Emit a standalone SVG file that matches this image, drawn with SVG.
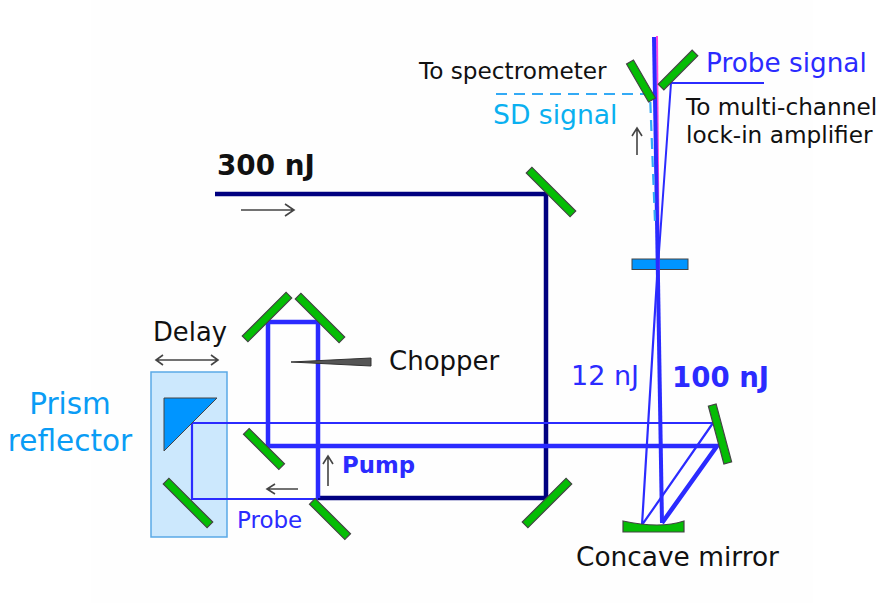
<svg xmlns="http://www.w3.org/2000/svg" width="880" height="603" viewBox="0 0 880 603">
<style>
text{font-family:"DejaVu Sans","Liberation Sans",sans-serif}
.m{fill:#05bd05;stroke:#444;stroke-width:1.2}
.bk{fill:#111}
.b{fill:#2b2bff}
.thin{fill:none;stroke:#2b2bff;stroke-width:2.2}
.thick{fill:none;stroke:#2b2bff;stroke-width:4.5}
.navy{fill:none;stroke:#000080;stroke-width:4.5}
.ar{fill:none;stroke:#444;stroke-width:1.6}
</style>
<rect width="880" height="603" fill="#fff"/>
<rect x="91" y="0" width="722" height="603" fill="#fefefe"/>
<g id="prism-stage">
<rect x="151" y="372" width="76" height="165" fill="#cce8fd" stroke="#5aa9e6" stroke-width="1.5"/>
</g>
<g id="plate"><rect x="632" y="259" width="56" height="10.500" fill="#0095ff" stroke="#444" stroke-width="1"/></g>
<g id="connectors">
<path class="navy" d="M215 194H546V498H318"/>
<path class="thick" d="M318 498V322H268V446H717L662 523"/>
<path class="thin" d="M192 423H713L642 525L658 262"/>
<path class="thin" d="M192 423V499H318"/>
<path d="M657 36L659 300" fill="none" stroke="#ff44dd" stroke-width="2"/>
<path d="M662 523L654 37" fill="none" stroke="#2b2bff" stroke-width="4"/>
<path d="M657 280L671 83H764" fill="none" stroke="#2b2bff" stroke-width="2"/>
<path d="M496 94H650L655 222" fill="none" stroke="#33aaf5" stroke-width="2.2" stroke-dasharray="11 7"/>
<path class="ar" d="M241 210H294M285 204L294 210L285 216"/>
<path class="ar" d="M637 155V128M632 136L637 128L642 136"/>
<path class="ar" d="M156 360H218M163 355L156 360L163 365M211 355L218 360L211 365"/>
<path class="ar" d="M328 486V456M323 464L328 456L333 464"/>
<path class="ar" d="M298 489H267M275 484L267 489L275 494"/>
</g>
<g id="prism"><path d="M164 398H217L164 451Z" fill="#0095ff" stroke="#444" stroke-width="1"/></g>
<g id="mirror-spectrometer"><rect class="m" x="-22" y="-4" width="44" height="8" transform="translate(641 81) rotate(60)"/></g>
<g id="mirror-probe"><rect class="m" x="-24" y="-4" width="48" height="8" transform="translate(678 70) rotate(-45)"/></g>
<g id="mirror-300"><rect class="m" x="-31" y="-4" width="62" height="8" transform="translate(551 192) rotate(45)"/></g>
<g id="mirror-br"><rect class="m" x="-31" y="-4" width="62" height="8" transform="translate(547 503) rotate(-45)"/></g>
<g id="mirror-pump"><rect class="m" x="-25" y="-4" width="50" height="8" transform="translate(330 519) rotate(45)"/></g>
<g id="mirror-delay"><rect class="m" x="-31" y="-4" width="62" height="8" transform="translate(188 503) rotate(45)"/></g>
<g id="mirror-mid"><rect class="m" x="-25" y="-4" width="50" height="8" transform="translate(264 449) rotate(45)"/></g>
<g id="mirror-a"><rect class="m" x="-31" y="-4" width="62" height="8" transform="translate(267 317) rotate(-45)"/></g>
<g id="mirror-b"><rect class="m" x="-31" y="-4" width="62" height="8" transform="translate(320 318) rotate(45)"/></g>
<g id="mirror-right"><rect class="m" x="-30" y="-4" width="60" height="8" transform="translate(720 434) rotate(75)"/></g>
<g id="concave"><path d="M623 521Q660 529 684 521V532H623Z" class="m"/></g>
<g id="chopper"><path d="M291 362L371 358V366Z" fill="#555" stroke="#333" stroke-width="1"/></g>
<g id="labels">
<text x="419" y="79" font-size="23.200" class="bk">To spectrometer</text>
<text x="706" y="72" font-size="26.300" class="b">Probe signal</text>
<text x="686" y="115" font-size="23.200" class="bk">To multi-channel</text>
<text x="686" y="143" font-size="23.200" class="bk">lock-in amplifier</text>
<text x="493" y="124" font-size="26.600" fill="#0ab0f0">SD signal</text>
<text x="217" y="175" font-size="27.800" font-weight="bold" class="bk">300 nJ</text>
<text x="153" y="341" font-size="25.800" class="bk">Delay</text>
<text x="389" y="370" font-size="26" class="bk">Chopper</text>
<text x="571" y="385" font-size="27" class="b">12 nJ</text>
<text x="672" y="387" font-size="27.600" font-weight="bold" class="b">100 nJ</text>
<text x="70" y="414" font-size="29.500" text-anchor="middle" fill="#0a9cf5">Prism</text>
<text x="70" y="451" font-size="29.500" text-anchor="middle" fill="#0a9cf5">reflector</text>
<text x="342" y="473" font-size="22.800" font-weight="bold" class="b">Pump</text>
<text x="237" y="528" font-size="23" class="b">Probe</text>
<text x="576" y="566" font-size="26.400" class="bk">Concave mirror</text>
</g>
</svg>
